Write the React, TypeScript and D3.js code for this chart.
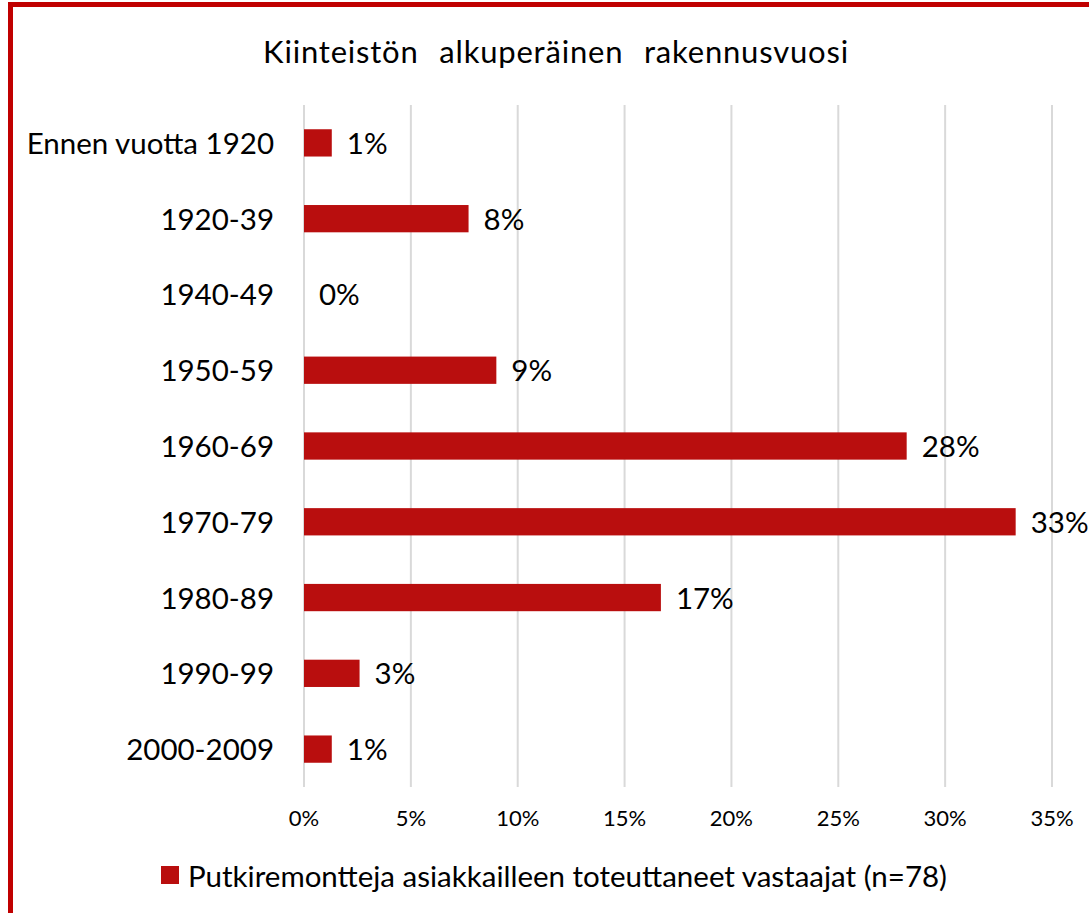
import React, { useEffect, useRef } from "react";
import * as d3 from "d3";

const categories = [
  "Ennen vuotta 1920",
  "1920-39",
  "1940-49",
  "1950-59",
  "1960-69",
  "1970-79",
  "1980-89",
  "1990-99",
  "2000-2009",
];
// share of respondents, %
const values = [1.3, 7.7, 0, 9.0, 28.2, 33.3, 16.7, 2.6, 1.3];
const valueLabels = ["1%", "8%", "0%", "9%", "28%", "33%", "17%", "3%", "1%"];
const xTicks = [0, 5, 10, 15, 20, 25, 30, 35];
const title = "Kiinteistön alkuperäinen rakennusvuosi";
const legendLabel = "Putkiremontteja asiakkailleen toteuttaneet vastaajat (n=78)";

const RED = "#b90e0e";
const FONT = "Lato, 'Open Sans', sans-serif";

export const App: React.FC = () => {
  const svgRef: any = useRef(null);

  useEffect(() => {
    const width = 1089;
    const height = 913;
    const margin = { top: 105, left: 304, right: 37, bottom: 126 };

    const svg = d3.select(svgRef.current);
    svg.selectAll("*").remove();

    svg.append("rect")
      .attr("width", width)
      .attr("height", height)
      .attr("fill", "#fff");

    // outer frame (only top and left visible)
    svg.append("rect")
      .attr("x", 10.5)
      .attr("y", 4.5)
      .attr("width", width + 20)
      .attr("height", height + 20)
      .attr("fill", "none")
      .attr("stroke", "#c00000")
      .attr("stroke-width", 5);

    const x = d3.scaleLinear()
      .domain([0, 35])
      .range([margin.left, width - margin.right]);

    const y = d3.scaleBand()
      .domain(categories)
      .range([margin.top, height - margin.bottom])
      .paddingInner(0.64)
      .paddingOuter(0.32);

    // gridlines
    svg.append("g")
      .selectAll("line")
      .data(xTicks)
      .join("line")
      .attr("x1", (d) => x(d))
      .attr("x2", (d) => x(d))
      .attr("y1", margin.top)
      .attr("y2", height - margin.bottom)
      .attr("stroke", "#d9d9d9")
      .attr("stroke-width", 2);

    // tick labels
    svg.append("g")
      .selectAll("text")
      .data(xTicks)
      .join("text")
      .attr("x", (d) => x(d))
      .attr("y", 826)
      .attr("text-anchor", "middle")
      .attr("font-family", FONT)
      .attr("font-size", 22)
      .attr("fill", "#000")
      .text((d) => d + "%");

    // bars
    svg.append("g")
      .selectAll("rect")
      .data(values)
      .join("rect")
      .attr("x", x(0))
      .attr("y", (d, i) => y(categories[i]) as number)
      .attr("width", (d) => x(d) - x(0))
      .attr("height", y.bandwidth())
      .attr("fill", RED);

    // value labels
    svg.append("g")
      .selectAll("text")
      .data(values)
      .join("text")
      .attr("x", (d) => x(d) + 15)
      .attr("y", (d, i) => (y(categories[i]) as number) + y.bandwidth() / 2 + 11)
      .attr("font-family", FONT)
      .attr("font-size", 29.5)
      .attr("fill", "#000")
      .text((d, i) => valueLabels[i]);

    // category labels
    svg.append("g")
      .selectAll("text")
      .data(categories)
      .join("text")
      .attr("x", 274)
      .attr("y", (d) => (y(d) as number) + y.bandwidth() / 2 + 11)
      .attr("text-anchor", "end")
      .attr("font-family", FONT)
      .attr("font-size", 29.5)
      .attr("fill", "#000")
      .text((d) => d);

    // title
    svg.append("text")
      .attr("x", 556)
      .attr("y", 63)
      .attr("text-anchor", "middle")
      .attr("font-family", FONT)
      .attr("font-size", 31)
      .attr("letter-spacing", 0.8)
      .attr("word-spacing", 12)
      .attr("fill", "#000")
      .text(title);

    // legend
    svg.append("rect")
      .attr("x", 161)
      .attr("y", 866)
      .attr("width", 18)
      .attr("height", 18)
      .attr("fill", RED);

    svg.append("text")
      .attr("x", 188)
      .attr("y", 887)
      .attr("font-family", FONT)
      .attr("font-size", 29.5)
      .attr("fill", "#000")
      .text(legendLabel);
  }, []);

  return (
    <div style={{ position: "absolute", left: 0, top: 0 }}>
      <svg ref={svgRef} width={1089} height={913} style={{ display: "block" }}></svg>
    </div>
  );
};

export default App;
